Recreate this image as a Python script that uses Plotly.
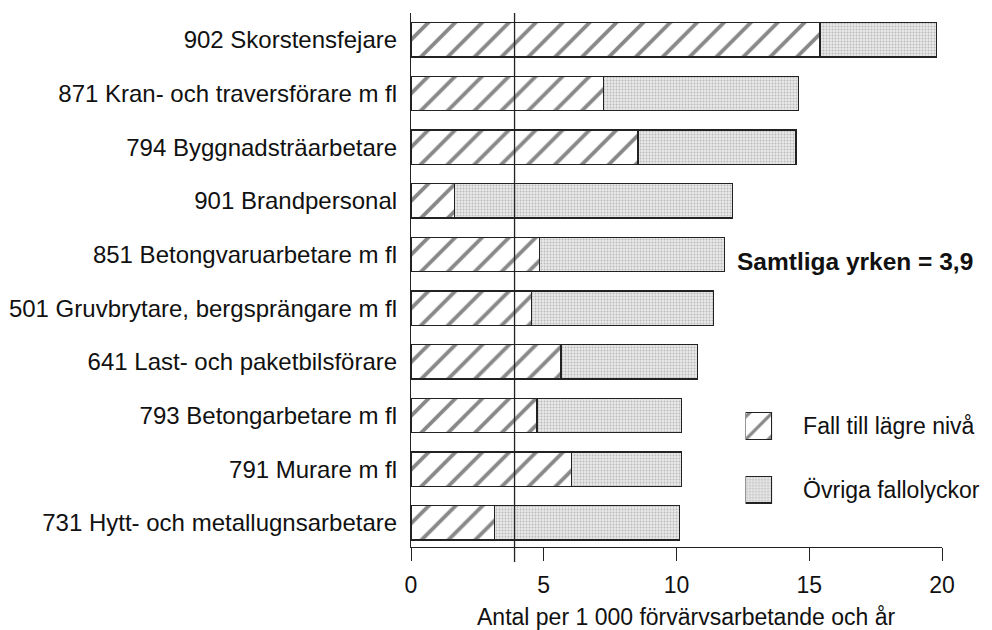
import plotly.graph_objects as go

occupations = [
    "902 Skorstensfejare",
    "871 Kran- och traversförare m fl",
    "794 Byggnadsträarbetare",
    "901 Brandpersonal",
    "851 Betongvaruarbetare m fl",
    "501 Gruvbrytare, bergsprängare m fl",
    "641 Last- och paketbilsförare",
    "793 Betongarbetare m fl",
    "791 Murare m fl",
    "731 Hytt- och metallugnsarbetare",
]
fall_lower_level = [15.4, 7.25, 8.55, 1.65, 4.85, 4.55, 5.65, 4.75, 6.05, 3.15]
other_falls = [4.4, 7.35, 5.95, 10.45, 6.95, 6.85, 5.15, 5.45, 4.15, 6.95]
series_names = ["Fall till lägre nivå", "Övriga fallolyckor"]
all_occupations = 3.9
x_ticks = [0, 5, 10, 15, 20]
x_title = "Antal per 1 000 förvärvsarbetande och år"

FONT = "Liberation Sans, Arial, Helvetica, sans-serif"
hatch = dict(shape="/", size=19, solidity=0.2, fgcolor="#111", bgcolor="white")
dots = dict(shape=".", size=3, solidity=0.3, fgcolor="#8a8a8a", bgcolor="#e8e8e8")
outline = dict(color="#222", width=1.3)

fig = go.Figure()
fig.add_trace(go.Bar(
    y=occupations, x=fall_lower_level, orientation="h", width=0.64,
    name=series_names[0], marker=dict(color="white", pattern=hatch, line=outline),
    showlegend=False,
))
fig.add_trace(go.Bar(
    y=occupations, x=other_falls, orientation="h", width=0.64,
    name=series_names[1], marker=dict(color="#e8e8e8", pattern=dots, line=outline),
    showlegend=False,
))
# legend swatches drawn on a small separate axis
fig.add_trace(go.Bar(
    y=[series_names[0]], x=[1], orientation="h", width=0.42,
    marker=dict(color="white", pattern=dict(hatch, size=16), line=outline),
    xaxis="x2", yaxis="y2", showlegend=False, hoverinfo="skip",
))
fig.add_trace(go.Bar(
    y=[series_names[1]], x=[1], orientation="h", width=0.42,
    marker=dict(color="#e8e8e8", pattern=dots, line=outline),
    xaxis="x2", yaxis="y2", showlegend=False, hoverinfo="skip",
))

fig.add_shape(type="line", xref="x", yref="paper", x0=all_occupations, x1=all_occupations,
              y0=-0.028, y1=1, line=dict(color="#222", width=1.3), layer="above")

fig.add_annotation(
    text="<b>Samtliga yrken = " + f"{all_occupations:.1f}".replace(".", ",") + "</b>",
    xref="paper", yref="paper", x=1.063, y=0.534, xanchor="right", yanchor="middle",
    showarrow=False, font=dict(size=24.5, color="#111", family=FONT),
)
# x-axis title
fig.add_annotation(
    text=x_title, xref="paper", yref="paper", x=0.517, y=-0.131,
    xanchor="center", yanchor="middle", showarrow=False,
    font=dict(size=23, color="#111", family=FONT),
)

fig.update_layout(
    width=992, height=630,
    margin=dict(l=403, r=58, t=5, b=91),
    paper_bgcolor="white", plot_bgcolor="white",
    barmode="stack",
    font=dict(family=FONT, color="#111"),
    xaxis=dict(
        range=[0, 20], tickvals=x_ticks, ticks="outside", ticklen=13, tickwidth=1.2,
        tickcolor="#222", showline=True, linecolor="#222", linewidth=1.2,
        showgrid=False, zeroline=False, tickfont=dict(size=23), automargin=False,
        ticklabelstandoff=4,
    ),
    yaxis=dict(
        categoryorder="array", categoryarray=occupations, range=[9.45, -0.50],
        showline=True, linecolor="#222", linewidth=1.2, ticks="", showgrid=False,
        tickfont=dict(size=24), ticklabelstandoff=8, automargin=False,
    ),
    xaxis2=dict(domain=[0.630, 0.680], range=[0, 1], anchor="y2", visible=False),
    yaxis2=dict(
        domain=[0.048, 0.286], anchor="x2", side="right", range=[1.5, -0.5],
        categoryorder="array", categoryarray=series_names, showline=False,
        showgrid=False, ticks="", tickfont=dict(size=23), ticklabelstandoff=30,
        automargin=False,
    ),
)

fig.write_html("out.html")
